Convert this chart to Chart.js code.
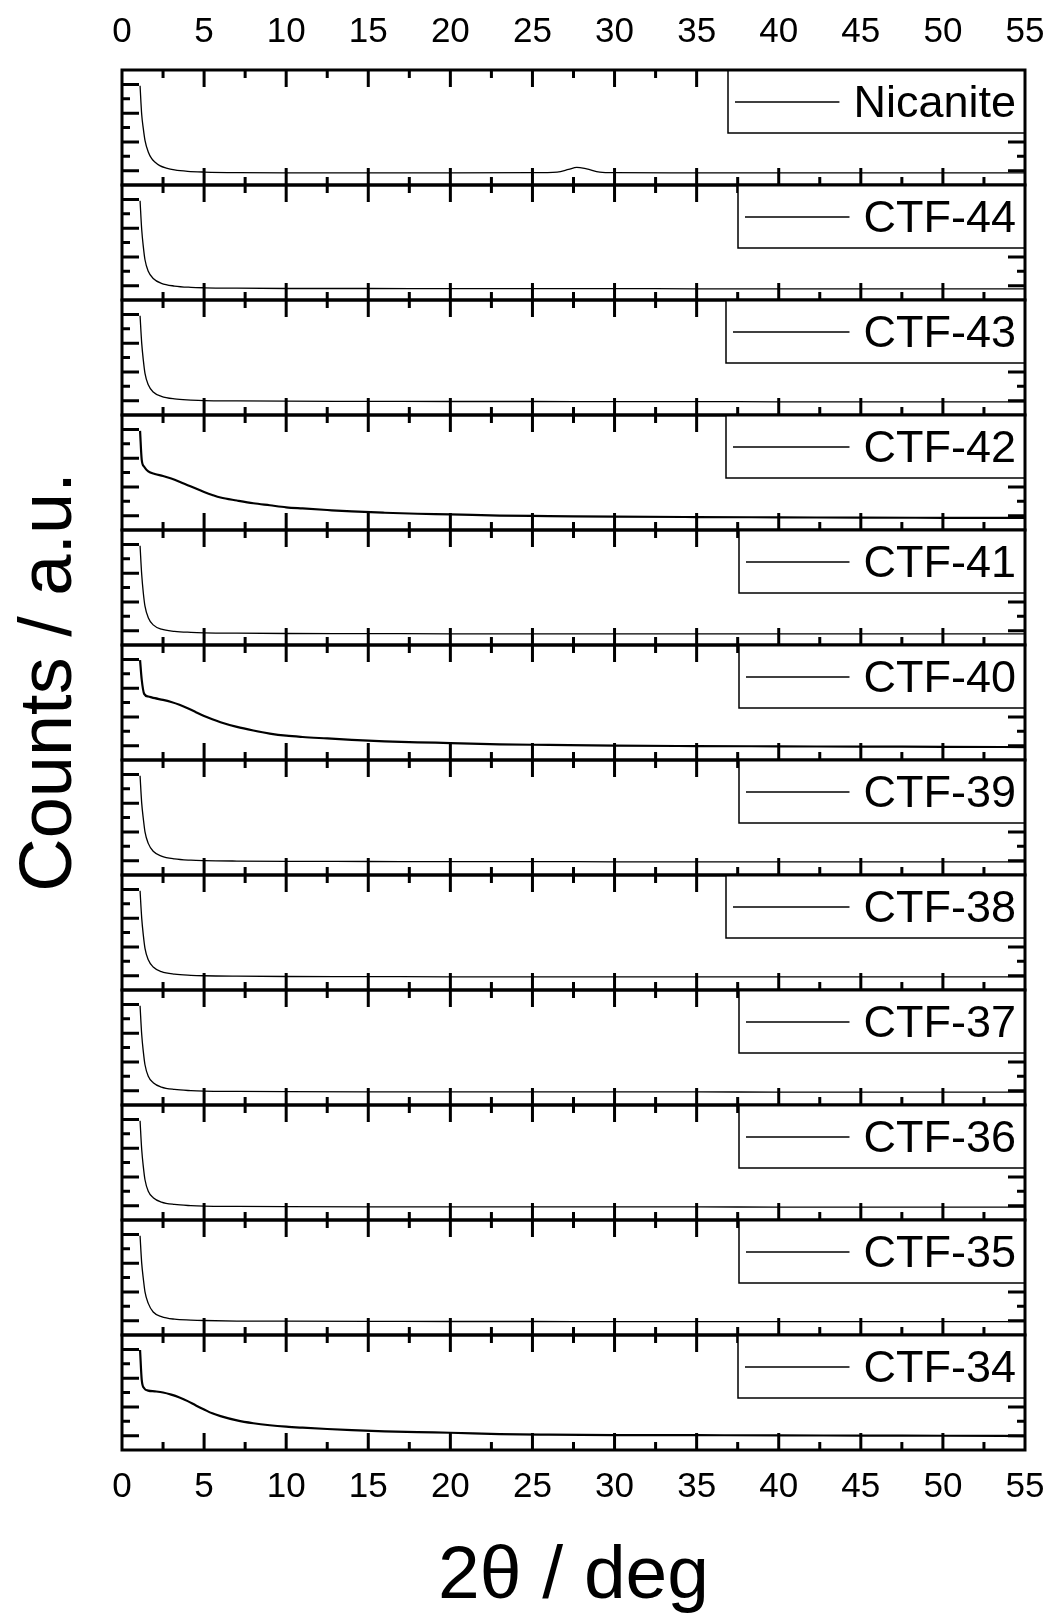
<!DOCTYPE html>
<html>
<head>
<meta charset="utf-8">
<script src="https://cdn.jsdelivr.net/npm/chart.js@4.4.1/dist/chart.umd.min.js"></script>
<style>
html, body { margin: 0; padding: 0; background: #fff; }
#wrap { width: 1051px; height: 1619px; }
</style>
</head>
<body>
<div id="wrap"><canvas id="xrd" width="1051" height="1619"></canvas></div>
<script>
var FONT = "'Liberation Sans', Arial, sans-serif";

// panels from top to bottom
var samples = ['Nicanite', 'CTF-44', 'CTF-43', 'CTF-42', 'CTF-41', 'CTF-40',
               'CTF-39', 'CTF-38', 'CTF-37', 'CTF-36', 'CTF-35', 'CTF-34'];

// x ticks (2theta / deg)
var xTicks = [0, 5, 10, 15, 20, 25, 30, 35, 40, 45, 50, 55];

// 2theta grid for the samples without a broad hump
var xFast = [1.1, 1.2, 1.3, 1.4, 1.6, 1.9, 2.4, 3.2, 4.2, 5, 7, 10, 15, 20, 25, 30, 35, 40, 45, 50, 55];

// 2theta grid for the amorphous samples (CTF-42, CTF-40, CTF-34)
var xHump = [1.1, 1.2, 1.35, 1.6, 2.0, 2.5, 3.0, 3.5, 4.0, 4.5, 5, 5.5, 6, 7, 8, 9, 10, 11, 12.5,
             14, 16, 18, 20, 23, 26, 30, 35, 40, 45, 50, 55];

// Nicanite has its own grid because of the small reflection near 28 deg
var xNicanite = [1.1, 1.2, 1.3, 1.4, 1.6, 1.8, 2.0, 2.3, 2.7, 3.2, 4, 5, 7, 10, 15, 20, 25,
                 26.5, 27.2, 27.7, 28.3, 29.1, 30, 35, 40, 45, 50, 55];
var yNicanite = [6.9, 4.9, 3.9, 3.1, 2.3, 1.85, 1.6, 1.35, 1.18, 1.05, 0.95, 0.9, 0.86, 0.85, 0.85, 0.85, 0.86,
                 0.9, 1.08, 1.23, 1.12, 0.9, 0.86, 0.85, 0.85, 0.84, 0.84, 0.84];

// counts (normalised, a.u.)
var yCtf44 = [6.9, 4.9, 3.7, 2.8, 2.0, 1.5, 1.16, 0.97, 0.88, 0.85, 0.82, 0.8, 0.8, 0.79, 0.79, 0.79, 0.78, 0.78, 0.78, 0.78, 0.78];
var yCtf43 = [6.9, 5.0, 3.8, 2.9, 2.1, 1.6, 1.3, 1.12, 1.04, 1.0, 0.98, 0.96, 0.95, 0.94, 0.94, 0.93, 0.93, 0.92, 0.92, 0.92, 0.92];
var yCtf42 = [6.9, 4.9, 4.4, 4.08, 3.9, 3.76, 3.58, 3.36, 3.12, 2.88, 2.65, 2.44, 2.26, 2.05, 1.86, 1.72, 1.58, 1.5, 1.39,
              1.29, 1.2, 1.13, 1.09, 1.0, 0.97, 0.93, 0.9, 0.88, 0.86, 0.85, 0.84];
var yCtf41 = [6.9, 4.9, 3.6, 2.7, 1.9, 1.4, 1.1, 0.95, 0.88, 0.85, 0.82, 0.8, 0.79, 0.78, 0.78, 0.78, 0.77, 0.77, 0.77, 0.77, 0.77];
var yCtf40 = [6.95, 5.6, 4.6, 4.42, 4.3, 4.18, 4.03, 3.84, 3.6, 3.33, 3.06, 2.83, 2.63, 2.3, 2.05, 1.84, 1.69, 1.6, 1.5,
              1.4, 1.3, 1.23, 1.18, 1.09, 1.05, 1.0, 0.97, 0.95, 0.93, 0.92, 0.9];
var yCtf39 = [6.9, 5.0, 3.9, 3.0, 2.2, 1.65, 1.32, 1.12, 1.03, 1.0, 0.97, 0.95, 0.94, 0.93, 0.93, 0.92, 0.92, 0.92, 0.91, 0.91, 0.91];
var yCtf38 = [6.9, 5.0, 3.8, 2.9, 2.1, 1.6, 1.28, 1.1, 1.02, 0.99, 0.96, 0.94, 0.93, 0.92, 0.92, 0.92, 0.91, 0.91, 0.91, 0.91, 0.91];
var yCtf37 = [6.9, 4.9, 3.7, 2.8, 2.0, 1.55, 1.25, 1.08, 1.0, 0.97, 0.95, 0.93, 0.92, 0.92, 0.91, 0.91, 0.91, 0.9, 0.9, 0.9, 0.9];
var yCtf36 = [6.9, 4.9, 3.7, 2.8, 2.0, 1.55, 1.25, 1.08, 1.0, 0.97, 0.95, 0.93, 0.92, 0.92, 0.91, 0.91, 0.91, 0.9, 0.9, 0.9, 0.9];
var yCtf35 = [6.9, 5.0, 3.9, 3.0, 2.2, 1.6, 1.28, 1.1, 1.04, 1.01, 0.97, 0.96, 0.95, 0.94, 0.94, 0.93, 0.93, 0.93, 0.93, 0.93, 0.93];
var yCtf34 = [6.96, 4.9, 4.3, 4.13, 4.08, 4.0, 3.85, 3.65, 3.4, 3.1, 2.82, 2.55, 2.36, 2.06, 1.86, 1.72, 1.62, 1.55, 1.46,
              1.38, 1.3, 1.24, 1.2, 1.11, 1.07, 1.04, 1.03, 1.02, 1.0, 0.99, 0.97];

var seriesX = [xNicanite, xFast, xFast, xHump, xFast, xHump, xFast, xFast, xFast, xFast, xFast, xHump];
var seriesY = [yNicanite, yCtf44, yCtf43, yCtf42, yCtf41, yCtf40, yCtf39, yCtf38, yCtf37, yCtf36, yCtf35, yCtf34];

// left edge of each legend frame
var legendLeft = [728, 738, 726, 726, 739, 739, 739, 726, 739, 739, 739, 738];

function pairs(xs, ys) {
    var out = [];
    for (var i = 0; i < xs.length; i++) out.push({ x: xs[i], y: ys[i] });
    return out;
}

function noSidePadding(s, h) {
    s.height = h;
    s.paddingLeft = 0;
    s.paddingRight = 0;
}

var datasets = [];
var scales = {
    x: {
        type: 'linear', position: 'bottom', min: 0, max: 55,
        afterBuildTicks: function (s) { s.ticks = xTicks.map(function (v) { return { value: v }; }); },
        ticks: { autoSkip: false, maxRotation: 0, padding: 16, color: '#000', font: { family: FONT, size: 35 } },
        grid: { display: false, drawTicks: false },
        border: { display: false },
        title: { display: true, text: '2\u03b8 / deg', color: '#000',
                 font: { family: FONT, size: 75, lineHeight: 1 }, padding: { top: 0, bottom: 4 } },
        afterFit: function (s) { noSidePadding(s, 169); }
    },
    xTop: {
        type: 'linear', position: 'top', min: 0, max: 55,
        afterBuildTicks: function (s) { s.ticks = xTicks.map(function (v) { return { value: v }; }); },
        ticks: { autoSkip: false, maxRotation: 0, padding: 17, color: '#000', font: { family: FONT, size: 35 } },
        grid: { display: false, drawTicks: false },
        border: { display: false },
        afterFit: function (s) { noSidePadding(s, 70); }
    }
};

for (var i = 0; i < samples.length; i++) {
    var id = 'y' + i;
    scales[id] = {
        type: 'linear', position: 'left', stack: 'panels', stackWeight: 1, weight: 100 - i,
        min: 0, max: 8,
        ticks: { display: false },
        grid: { display: false, drawTicks: false },
        border: { display: false },
        afterFit: function (s) { s.width = 0; }
    };
    datasets.push({
        label: samples[i],
        data: pairs(seriesX[i], seriesY[i]),
        xAxisID: 'x',
        yAxisID: id,
        borderColor: '#000',
        borderWidth: (seriesX[i] === xHump) ? 2.2 : 1.3,
        pointRadius: 0,
        fill: false,
        cubicInterpolationMode: 'monotone'
    });
}

// frames, inward ticks, legend boxes and y title
var panelDecor = {
    id: 'panelDecor',
    afterDraw: function (chart) {
        var ctx = chart.ctx;
        var area = chart.chartArea;
        var xs = chart.scales.x;
        ctx.save();
        ctx.strokeStyle = '#000';
        ctx.fillStyle = '#000';
        for (var i = 0; i < samples.length; i++) {
            var ys = chart.scales['y' + i];
            var top = ys.getPixelForValue(8);
            var bot = ys.getPixelForValue(0);

            // inward ticks
            ctx.lineWidth = 3;
            ctx.beginPath();
            for (var v = 2.5; v < 55; v += 2.5) {
                var px = xs.getPixelForValue(v);
                var len = (v % 5 === 0) ? 17 : 8;
                ctx.moveTo(px, top); ctx.lineTo(px, top + len);
                ctx.moveTo(px, bot); ctx.lineTo(px, bot - len);
            }
            for (var t = 1; t < 8; t++) {
                var py = ys.getPixelForValue(t);
                var l2 = (t % 2 === 1) ? 17 : 8;
                ctx.moveTo(area.left, py); ctx.lineTo(area.left + l2, py);
                ctx.moveTo(area.right, py); ctx.lineTo(area.right - l2, py);
            }
            ctx.stroke();

            // legend frame
            var bx = legendLeft[i];
            ctx.fillStyle = '#fff';
            ctx.fillRect(bx, top, area.right - bx, 63);
            ctx.lineWidth = 1.5;
            ctx.strokeRect(bx, top, area.right - bx, 63);
            ctx.fillStyle = '#000';
            ctx.font = '45px ' + FONT;
            ctx.textAlign = 'right';
            ctx.textBaseline = 'alphabetic';
            var tx = area.right - 9;
            ctx.fillText(samples[i], tx, top + 47);
            var tw = ctx.measureText(samples[i]).width;
            ctx.lineWidth = 1.3;
            ctx.beginPath();
            ctx.moveTo(bx + 7, top + 32);
            ctx.lineTo(tx - tw - 14, top + 32);
            ctx.stroke();

            // panel frame
            ctx.lineWidth = 3;
            ctx.strokeRect(area.left, top, area.right - area.left, bot - top);
        }

        // y axis title
        ctx.translate(71, 682);
        ctx.rotate(-Math.PI / 2);
        ctx.font = '74px ' + FONT;
        ctx.textAlign = 'center';
        ctx.textBaseline = 'alphabetic';
        ctx.fillText('Counts / a.u.', 0, 0);
        ctx.restore();
    }
};

var chart = new Chart(document.getElementById('xrd'), {
    type: 'line',
    data: { datasets: datasets },
    options: {
        responsive: false,
        animation: false,
        devicePixelRatio: 1,
        layout: { padding: { left: 122, right: 26, top: 0, bottom: 0 } },
        plugins: { legend: { display: false }, tooltip: { enabled: false } },
        scales: scales
    },
    plugins: [panelDecor]
});
</script>
</body>
</html>
